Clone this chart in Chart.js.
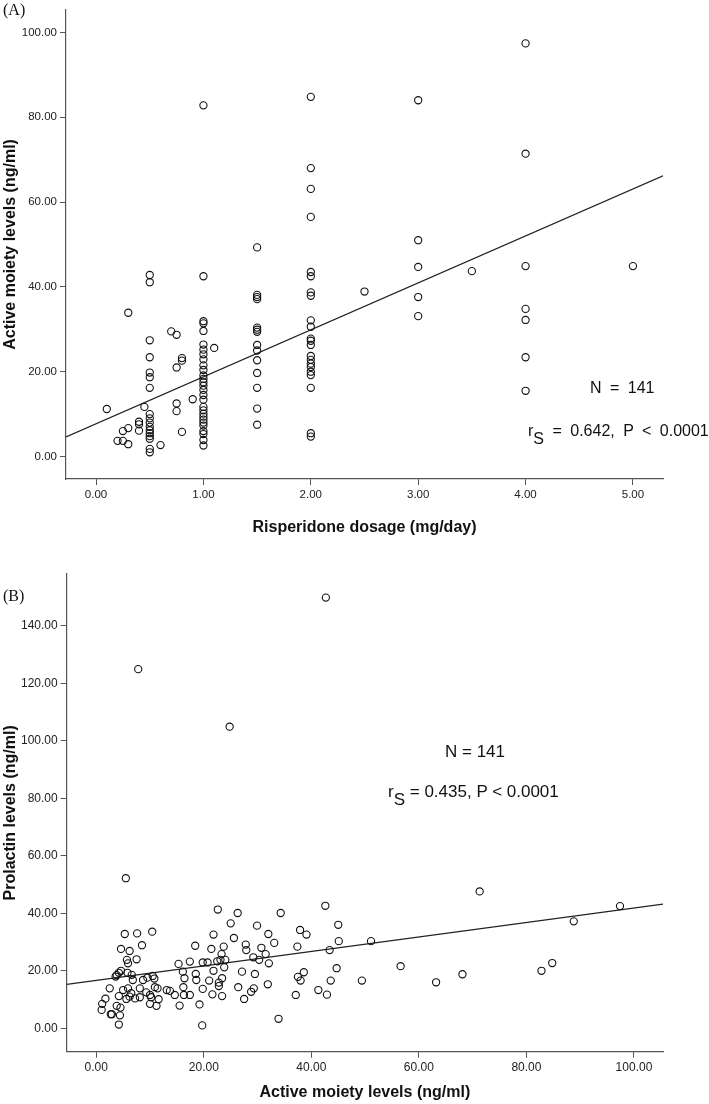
<!DOCTYPE html>
<html>
<head>
<meta charset="utf-8">
<script src="https://cdn.jsdelivr.net/npm/chart.js@4.4.1/dist/chart.umd.min.js"></script>
<style>
body { margin: 0; background: #fff; }
#wrap { position: relative; width: 709px; height: 1104px; overflow: hidden; }
canvas { position: absolute; left: 0; }
#chartA { top: 0; }
#chartB { top: 545px; }
.panel { position: absolute; left: 3px; font-family: "Liberation Serif", "Times New Roman", serif; font-size: 16px; line-height: 16px; color: #111; }
.stat { position: absolute; font-family: "Liberation Sans", Arial, sans-serif; color: #111; white-space: nowrap; }
.stat sub { font-size: 1em; vertical-align: -8px; line-height: 0; }
.statA { font-size: 16px; line-height: 16px; word-spacing: 4px; }
.statB { font-size: 17px; line-height: 17px; }
</style>
</head>
<body>
<div id="wrap">
  <canvas id="chartA" width="709" height="545"></canvas>
  <canvas id="chartB" width="709" height="559"></canvas>
  <div class="panel" style="top:2px">(A)</div>
  <div class="panel" style="top:588px">(B)</div>
  <div class="stat statA" style="left:590px; top:380px">N = 141</div>
  <div class="stat statA" style="left:528px; top:423px">r<sub>S</sub> = 0.642, P &lt; 0.0001</div>
  <div class="stat statB" style="left:445px; top:743px">N = 141</div>
  <div class="stat statB" style="left:388px; top:783px">r<sub>S</sub> = 0.435, P &lt; 0.0001</div>
</div>
<script>
// (A) dosis de risperidona vs niveles de fraccion activa
const dosis = [
  0.1, 0.2, 0.25, 0.25, 0.3, 0.3, 0.3, 0.4, 0.4, 0.4, 0.45,
  0.5, 0.5, 0.5, 0.5, 0.5, 0.5, 0.5, 0.5, 0.5, 0.5, 0.5, 0.5, 0.5, 0.5, 0.5, 0.5, 0.5,
  0.6, 0.7, 0.75, 0.75, 0.75, 0.75, 0.8, 0.8, 0.8, 0.9,
  1, 1, 1, 1, 1, 1, 1, 1, 1, 1, 1, 1, 1, 1, 1, 1, 1, 1, 1, 1, 1, 1, 1, 1, 1, 1, 1, 1, 1,
  1.1,
  1.5, 1.5, 1.5, 1.5, 1.5, 1.5, 1.5, 1.5, 1.5, 1.5, 1.5, 1.5, 1.5, 1.5,
  2, 2, 2, 2, 2, 2, 2, 2, 2, 2, 2, 2, 2, 2, 2, 2, 2, 2, 2, 2, 2, 2,
  2.5, 3, 3, 3, 3, 3, 3.5,
  4, 4, 4, 4, 4, 4, 4, 5
];
const nivelesA = [
  11.2, 3.7, 6.0, 3.7, 33.9, 6.7, 2.9, 8.2, 7.6, 6.1, 11.7,
  42.8, 41.1, 27.4, 23.4, 19.8, 18.7, 16.2, 10.0, 9.0, 8.0, 7.0, 6.2, 5.5, 4.8, 4.2, 1.8, 1.0,
  2.7, 29.5, 28.7, 21.0, 12.5, 10.7, 23.2, 22.6, 5.8, 13.5,
  82.8, 42.5, 31.9, 31.4, 29.6, 26.4, 25.2, 24.1, 22.9, 21.5, 20.4, 19.1, 18.3, 17.5, 16.7,
  15.7, 14.5, 13.4, 11.7, 10.9, 10.1, 9.4, 8.7, 8.0, 7.3, 6.0, 5.3, 3.9, 2.6,
  25.6,
  49.3, 38.1, 37.6, 37.1, 30.4, 29.9, 29.4, 26.3, 25.0, 22.7, 19.7, 16.2, 11.3, 7.5,
  84.8, 68.0, 63.1, 56.5, 43.5, 42.5, 38.7, 37.9, 32.1, 30.6, 27.8, 27.3, 26.3, 23.7, 22.8,
  21.9, 21.1, 20.0, 19.2, 16.2, 5.5, 4.7,
  38.9, 84.0, 51.0, 44.7, 37.6, 33.1, 43.7,
  97.4, 71.4, 44.9, 34.8, 32.2, 23.4, 15.5, 44.9
];

// (B) niveles de fraccion activa vs prolactina
const nivelesB = [
  5.5, 7.8, 24.8, 42.7,
  22.6, 26.3, 34.3, 5.3, 7.6, 10.4, 25.0, 29.9, 32.0, 33.1, 37.9, 21.8, 8.5, 4.6, 6.2, 18.4,
  21.4, 23.7, 25.6, 27.8, 27.9, 29.2, 30.7, 31.5, 30.3, 32.1, 37.4, 23.3, 5.7, 5.9, 7.5, 4.6,
  3.8, 5.8, 6.6, 6.8, 8.7, 9.5, 10.5, 10.8, 15.3, 17.4, 19.8, 20.7, 22.5, 23.1, 24.0, 16.1,
  16.4, 18.5, 18.6, 21.8, 23.8, 27.1, 29.5, 23.4, 21.0, 22.8, 22.8, 26.4, 29.3, 28.8, 31.9,
  19.8, 21.6, 23.4, 27.5, 16.2, 16.3, 17.4, 14.6, 15.5, 19.2, 19.7, 33.9, 37.1, 37.5,
  2.5, 1.7, 1.1, 1.0, 2.7, 2.9, 3.8, 4.5, 4.4, 4.2, 4.2, 5.0, 5.9, 5.6, 6.2, 6.5, 7.2, 8.1,
  8.1, 9.3, 10.0, 10.2, 10.0, 11.2, 11.4, 11.6, 10.9, 13.1, 13.7, 3.6, 4.2,
  42.6, 45.0, 39.1, 43.4, 45.1, 51.1, 71.3, 38.6, 38.0, 44.7, 43.6, 49.4, 56.6, 63.2, 68.1,
  41.3, 42.9, 82.8, 84.8, 88.8, 97.4
];
const prolactina = [
  52.2, 124.9, 104.9, 149.8,
  41.3, 40.1, 40.1, 32.8, 33.0, 33.6, 36.5, 35.7, 32.8, 29.7, 34.2, 32.6, 28.9, 27.6, 26.9, 28.7,
  27.6, 28.4, 31.4, 29.1, 27.2, 24.7, 28.0, 25.8, 23.8, 22.6, 28.4, 25.8, 23.8, 22.6, 24.0, 20.0,
  18.5, 19.3, 18.6, 16.8, 16.8, 17.6, 18.2, 17.3, 22.4, 23.2, 22.9, 22.9, 23.3, 23.8, 23.8, 19.7,
  17.4, 18.9, 16.8, 20.0, 21.2, 19.7, 18.9, 17.4, 16.6, 15.9, 14.7, 14.3, 13.9, 12.7, 15.3,
  13.7, 11.8, 11.2, 10.2, 14.3, 11.6, 11.6, 11.6, 7.9, 8.3, 1.0, 3.3, 11.6, 17.9,
  13.9, 10.3, 8.5, 6.4, 4.9, 4.9, 7.8, 7.2, 4.5, 1.3, 11.2, 13.3, 13.9, 10.2, 11.0, 12.2, 10.4, 10.8,
  13.9, 12.5, 11.6, 10.8, 8.5, 7.8, 13.9, 10.1, 14.3, 13.3, 13.0, 18.0, 19.3,
  42.6, 36.0, 32.6, 27.2, 30.3, 30.3, 47.6, 19.5, 16.6, 20.9, 16.6, 16.6, 21.6, 16.0, 18.8,
  13.3, 11.7, 20.0, 22.7, 37.2, 42.5
];

const ticksDosis = [0, 1, 2, 3, 4, 5];
const ticksNivelA = [0, 20, 40, 60, 80, 100];
const ticksNivelB = [0, 20, 40, 60, 80, 100];
const ticksProlactina = [0, 20, 40, 60, 80, 100, 120, 140];

// recta de ajuste: [intercepto, pendiente]
const ajusteA = [7.74, 11.07];
const ajusteB = [16.68, 0.2515];

Chart.defaults.font.family = '"Liberation Sans", Arial, sans-serif';
Chart.defaults.animation = false;

function crearGrafico(id, xs, ys, ajuste, cfg) {
    const puntos = xs.map((x, i) => ({ x: x, y: ys[i] }));
    const recta = [cfg.xMin, cfg.xMax].map(x => ({ x: x, y: ajuste[0] + ajuste[1] * x }));
    const gris = '#555';

    new Chart(document.getElementById(id), {
        type: 'scatter',
        data: {
            datasets: [{
                data: puntos,
                pointRadius: 3.6,
                pointHoverRadius: 3.6,
                pointBorderWidth: 1.1,
                borderColor: '#111',
                backgroundColor: 'rgba(0,0,0,0)'
            }, {
                data: recta,
                showLine: true,
                pointRadius: 0,
                borderColor: '#222',
                borderWidth: 1.2
            }]
        },
        options: {
            responsive: false,
            devicePixelRatio: 1,
            events: [],
            layout: { padding: { left: 0, right: 46, top: cfg.padTop, bottom: 0 } },
            plugins: { legend: { display: false }, tooltip: { enabled: false } },
            scales: {
                x: {
                    type: 'linear',
                    min: cfg.xMin,
                    max: cfg.xMax,
                    afterBuildTicks: s => { s.ticks = cfg.xTicks.map(v => ({ value: v })); },
                    afterFit: s => { s.height = cfg.xAxisH; },
                    grid: { drawOnChartArea: false, tickLength: 6, color: gris },
                    border: { color: gris, width: 1.2 },
                    ticks: {
                        callback: v => Number(v).toFixed(2),
                        font: { size: cfg.tickSize },
                        color: '#222',
                        padding: 3,
                        maxRotation: 0,
                        autoSkip: false
                    },
                    title: {
                        display: true,
                        text: cfg.xTitle,
                        color: '#111',
                        font: { size: 16, weight: 'bold' },
                        padding: { top: 0, bottom: cfg.xTitlePad }
                    }
                },
                y: {
                    type: 'linear',
                    min: cfg.yMin,
                    max: cfg.yMax,
                    afterBuildTicks: s => { s.ticks = cfg.yTicks.map(v => ({ value: v })); },
                    afterFit: s => { s.width = cfg.yAxisW; },
                    grid: { drawOnChartArea: false, tickLength: 6, color: gris },
                    border: { color: gris, width: 1.2 },
                    ticks: {
                        callback: v => Number(v).toFixed(2),
                        font: { size: cfg.tickSize },
                        color: '#222',
                        padding: 3,
                        autoSkip: false
                    },
                    title: {
                        display: true,
                        text: cfg.yTitle,
                        color: '#111',
                        font: { size: 16, weight: 'bold' },
                        padding: { top: 1, bottom: 0 }
                    }
                }
            }
        }
    });
}

crearGrafico('chartA', dosis, nivelesA, ajusteA, {
    xMin: -0.28, xMax: 5.28, yMin: -5.3, yMax: 105.3,
    xTicks: ticksDosis, yTicks: ticksNivelA,
    padTop: 2, xAxisH: 66, yAxisW: 66, tickSize: 11.5, xTitlePad: 8,
    xTitle: 'Risperidone dosage (mg/day)',
    yTitle: 'Active moiety levels (ng/ml)'
});

crearGrafico('chartB', nivelesB, prolactina, ajusteB, {
    xMin: -5.5, xMax: 105.4, yMin: -8.14, yMax: 158,
    xTicks: ticksNivelB, yTicks: ticksProlactina,
    padTop: 29, xAxisH: 52.3, yAxisW: 66.7, tickSize: 12, xTitlePad: 1.5,
    xTitle: 'Active moiety levels (ng/ml)',
    yTitle: 'Prolactin levels (ng/ml)'
});
</script>
</body>
</html>
